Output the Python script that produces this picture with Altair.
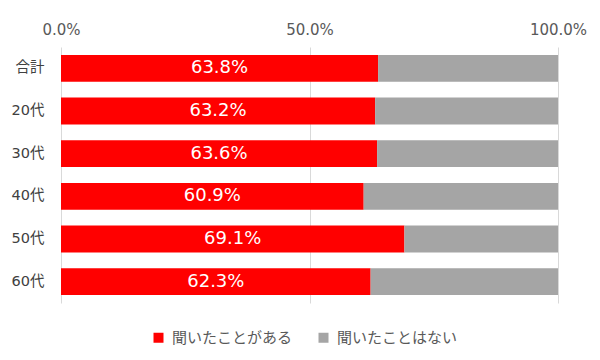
import altair as alt
import pandas as pd

categories = ["合計", "20代", "30代", "40代", "50代", "60代"]
heard = [63.8, 63.2, 63.6, 60.9, 69.1, 62.3]
not_heard = [36.2, 36.8, 36.4, 39.1, 30.9, 37.7]
series = ["聞いたことがある", "聞いたことはない"]
colors = ["#FF0000", "#A5A5A5"]
ticks = [0, 0.5, 1.0]

rows = []
for c, h, n in zip(categories, heard, not_heard):
    rows.append({"cat": c, "series": series[0], "value": h / 100, "ord": 0})
    rows.append({"cat": c, "series": series[1], "value": n / 100, "ord": 1})
df = pd.DataFrame(rows)

FONT = "DejaVu Sans, Noto Sans CJK JP"

y = alt.Y("cat:N", sort=categories, title=None,
          scale=alt.Scale(paddingInner=0.37, paddingOuter=0.185),
          axis=alt.Axis(domain=False, ticks=False, labelFontSize=14.5, labelColor="#404040",
                        labelPadding=17, labelFont=FONT, labelFontWeight="normal"))

bars = alt.Chart(df).mark_bar().encode(
    x=alt.X("value:Q", stack="zero", title=None,
            scale=alt.Scale(domain=[0, 1], nice=False),
            axis=alt.Axis(orient="top", values=ticks, format=".1%", domain=False, ticks=False,
                          grid=True, gridColor="#D9D9D9", labelFontSize=15, labelColor="#595959",
                          labelPadding=10, labelFont=FONT, labelFontWeight="normal",
                          labelFlush=False)),
    y=y,
    color=alt.Color("series:N", scale=alt.Scale(domain=series, range=colors),
                    legend=alt.Legend(title=None, orient="none", direction="horizontal",
                                      legendX=90, legendY=283, symbolType="square",
                                      symbolSize=100, symbolStrokeWidth=0,
                                      labelFontSize=15, labelColor="#595959", labelFont=FONT,
                                      columnPadding=23, labelOffset=6)),
    order=alt.Order("ord:Q"),
)

labels = alt.Chart(df).transform_filter(
    alt.datum.ord == 0
).transform_calculate(
    mid="datum.value / 2"
).mark_text(color="white", fontSize=18, font=FONT, baseline="middle").encode(
    x=alt.X("mid:Q"),
    y=y,
    text=alt.Text("value:Q", format=".1%"),
)

chart = (bars + labels).properties(
    width=497, height=256,
    autosize=alt.AutoSizeParams(type="none"),
    padding={"left": 53, "top": 39, "right": 34, "bottom": 49},
).configure_view(stroke=None)

chart.save("out.html", embed_options={"renderer": "svg", "actions": False})
